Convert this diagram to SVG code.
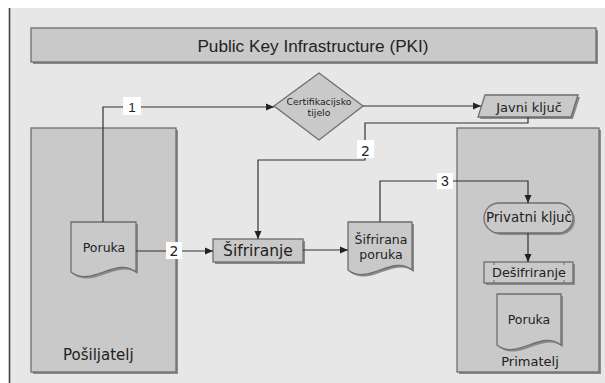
<svg xmlns="http://www.w3.org/2000/svg" width="605" height="383" viewBox="0 0 605 383">
<style>
.box{fill:#c9c9c9;stroke:#6e6e6e;stroke-width:1.3}
.shd{fill:#8a8a8a}
.t{font-family:"DejaVu Sans",sans-serif;fill:#222;text-anchor:middle}
.a{font-family:"Liberation Sans",Arial,sans-serif;fill:#222;text-anchor:middle}
.ln{fill:none;stroke:#333;stroke-width:1.2}
.lab{fill:#fff}
</style>
<defs>
<marker id="arr" markerUnits="userSpaceOnUse" markerWidth="10" markerHeight="8" refX="8" refY="4" orient="auto">
<path d="M0,0.5 L8,4 L0,7.5 Z" fill="#222"/>
</marker>
</defs>
<rect x="0" y="0" width="605" height="383" fill="#fff"/>
<rect x="9" y="8" width="596" height="375" fill="#e7e7e7"/>
<line x1="9.5" y1="8" x2="9.5" y2="383" stroke="#444" stroke-width="1.6"/>

<g id="title">
<rect class="shd" x="33" y="30" width="565" height="34"/>
<rect class="box" x="31" y="28" width="565" height="34"/>
<text class="a" x="313" y="52" font-size="17.2">Public Key Infrastructure (PKI)</text>
</g>

<g id="posiljatelj">
<rect class="shd" x="33" y="130" width="145" height="244"/>
<rect class="box" x="31" y="128" width="145" height="244"/>
<text class="t" x="63" y="360" font-size="15" style="text-anchor:start">Pošiljatelj</text>
</g>

<g id="primatelj">
<rect class="shd" x="459" y="130" width="142" height="244"/>
<rect class="box" x="457" y="128" width="142" height="244"/>
<text class="t" x="530" y="366" font-size="13">Primatelj</text>
</g>

<g id="certifikacijsko">
<path class="box" d="M274,106 L319,73 L363,106 L319,140 Z"/>
<text class="t" x="319" y="105" font-size="9.3">Certifikacijsko</text>
<text class="t" x="319" y="116" font-size="9.3">tijelo</text>
</g>

<g id="javni">
<path class="shd" d="M487,97 L580,97 L573,119 L480,119 Z"/>
<path class="box" d="M485,95 L578,95 L571,117 L478,117 Z"/>
<text class="t" x="529" y="112" font-size="13">Javni ključ</text>
</g>

<g id="poruka1">
<path class="shd" d="M73,224 H138 V274 C118,258 93,290 73,274 Z"/>
<path class="box" d="M71,222 H136 V272 C116,256 91,288 71,272 Z"/>
<text class="t" x="104" y="252" font-size="12.5">Poruka</text>
</g>

<g id="sifriranje">
<rect class="shd" x="215" y="241" width="90" height="23"/>
<rect class="box" x="213" y="239" width="90" height="23"/>
<text class="t" x="258" y="256" font-size="15.5">Šifriranje</text>
</g>

<g id="sifrirana">
<path class="shd" d="M350,224 H414 V272 C394,256 370,288 350,272 Z"/>
<path class="box" d="M348,222 H412 V270 C392,254 368,286 348,270 Z"/>
<text class="t" x="381" y="244" font-size="12.5">Šifrirana</text>
<text class="t" x="381" y="259" font-size="12.5">poruka</text>
</g>

<g id="privatni">
<rect class="shd" x="486" y="205" width="89" height="30" rx="15"/>
<rect class="box" x="484" y="203" width="89" height="30" rx="15"/>
<text class="t" x="529" y="222" font-size="13.4">Privatni ključ</text>
</g>

<g id="desifriranje">
<rect class="shd" x="486" y="264" width="89" height="21"/>
<rect class="box" x="484" y="262" width="89" height="21"/>
<path d="M494,262 v3 M494,283 v-3 M564,262 v3 M564,283 v-3" stroke="#6e6e6e" stroke-width="1"/>
<text class="t" x="529" y="277" font-size="12.8">Dešifriranje</text>
</g>

<g id="poruka2">
<path class="shd" d="M499,296 H563 V347 C543,331 519,363 499,347 Z"/>
<path class="box" d="M497,294 H561 V345 C541,329 517,361 497,345 Z"/>
<text class="t" x="529" y="324" font-size="12.5">Poruka</text>
</g>

<g id="connectors">
<path class="ln" d="M103,222 V107 H274" marker-end="url(#arr)"/>
<path class="ln" d="M363,106 H481" marker-end="url(#arr)"/>
<path class="ln" d="M528,117 V123 H365 V160 H258 V239" marker-end="url(#arr)"/>
<path class="ln" d="M136,251 H213" marker-end="url(#arr)"/>
<path class="ln" d="M303,250 H348" marker-end="url(#arr)"/>
<path class="ln" d="M380,222 V181 H528 V203" marker-end="url(#arr)"/>
<path class="ln" d="M528,233 V262" marker-end="url(#arr)"/>
<rect class="lab" x="123" y="97" width="18" height="18"/>
<text class="a" x="132" y="112" font-size="13.5">1</text>
<rect class="lab" x="357" y="140" width="17" height="18"/>
<text class="t" x="365.5" y="156" font-size="14">2</text>
<rect class="lab" x="166" y="242" width="16" height="17"/>
<text class="t" x="174" y="256" font-size="14">2</text>
<rect class="lab" x="437" y="173" width="16" height="16"/>
<text class="a" x="445" y="186" font-size="14">3</text>
</g>
</svg>
